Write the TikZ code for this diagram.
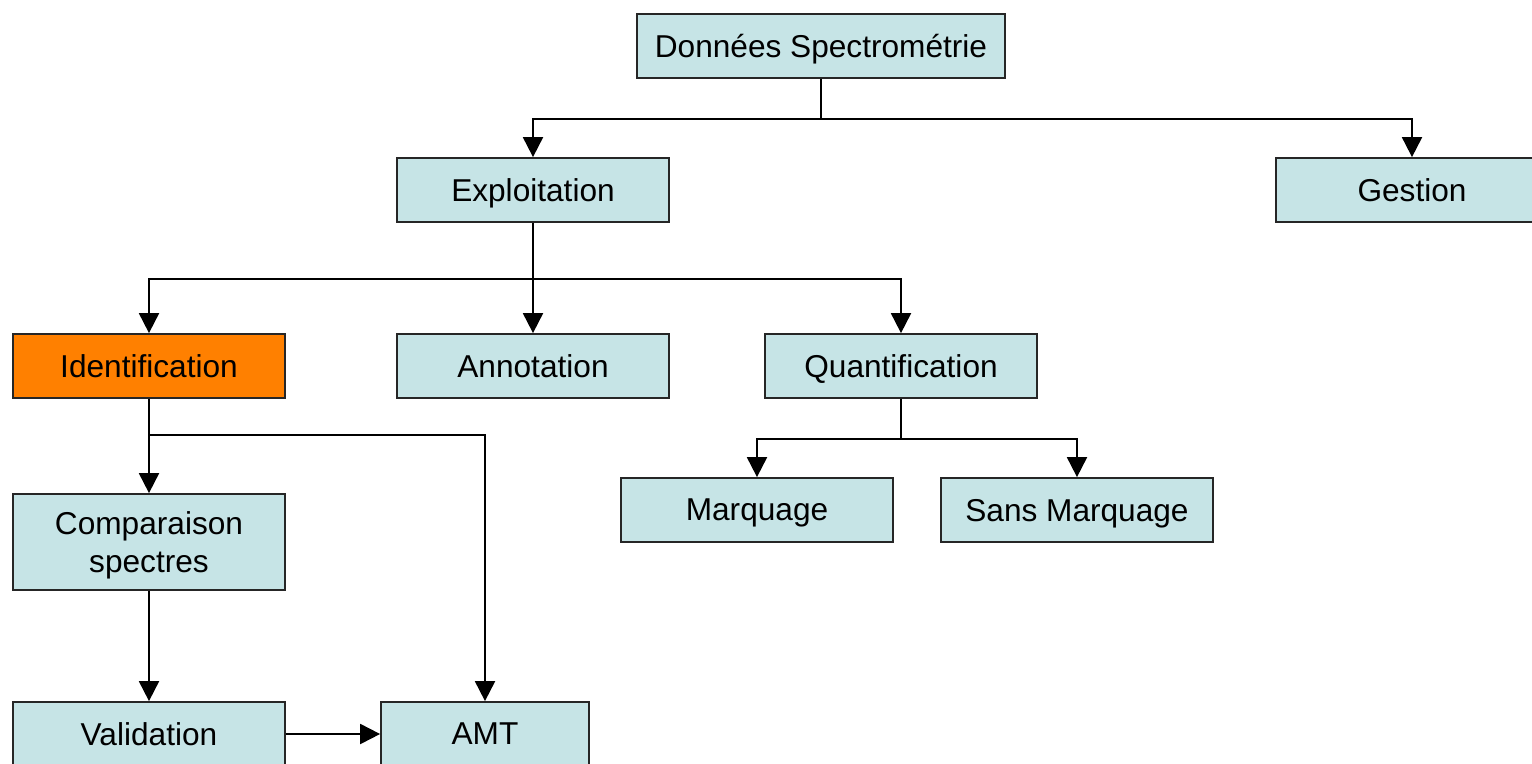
\documentclass[tikz,border=0pt]{standalone}
\usepackage{fontspec}
\setmainfont{Liberation Sans}
\usetikzlibrary{arrows.meta}
\definecolor{boxblue}{RGB}{198,228,230}
\definecolor{boxorange}{RGB}{255,128,0}
\tikzset{
  box/.style={draw=black!85, fill=boxblue, line width=1pt, minimum width=5.44cm,
    minimum height=1.28cm, inner sep=0pt, align=center, text depth=0pt,
    font=\fontsize{18}{22}\selectfont},
  link/.style={line width=1.1pt, -{Triangle[length=0.4cm,width=0.4cm]}}
}
\begin{document}
\begin{tikzpicture}[x=0.02cm,y=-0.02cm]
            \useasboundingbox (0,0) rectangle (1532,764);
            % boxes
            \node[box, minimum width=7.36cm] (donnees) at (821,46) {Données Spectrométrie};
            \node[box] (exploit) at (533,190) {Exploitation};
            \node[box] (gestion) at (1412,190) {Gestion};
            \node[box, fill=boxorange] (ident) at (149,366) {Identification};
            \node[box] (annot) at (533,366) {Annotation};
            \node[box] (quant) at (901,366) {Quantification};
            \node[box] (marq) at (757,510) {Marquage};
            \node[box] (sansmarq) at (1077,510) {Sans Marquage};
            \node[box, minimum height=1.92cm] (compar) at (149,542) {Comparaison\\spectres};
            \node[box] (valid) at (149,734) {Validation};
            \node[box, minimum width=4.16cm] (amt) at (485,734) {AMT};
            % links
            \draw[link] (donnees.south) -- ++(0,40) -| (exploit.north);
            \draw[link] (donnees.south) -- ++(0,40) -| (gestion.north);
            \draw[link] (exploit.south) -- ++(0,56) -| (ident.north);
            \draw[link] (exploit.south) -- (annot.north);
            \draw[link] (exploit.south) -- ++(0,56) -| (quant.north);
            \draw[link] (quant.south) -- ++(0,40) -| (marq.north);
            \draw[link] (quant.south) -- ++(0,40) -| (sansmarq.north);
            \draw[link] (ident.south) -- (compar.north);
            \draw[link] (ident.south) -- ++(0,36) -| (amt.north);
            \draw[link] (compar.south) -- (valid.north);
            \draw[link] (valid.east) -- (amt.west);
\end{tikzpicture}
\end{document}
